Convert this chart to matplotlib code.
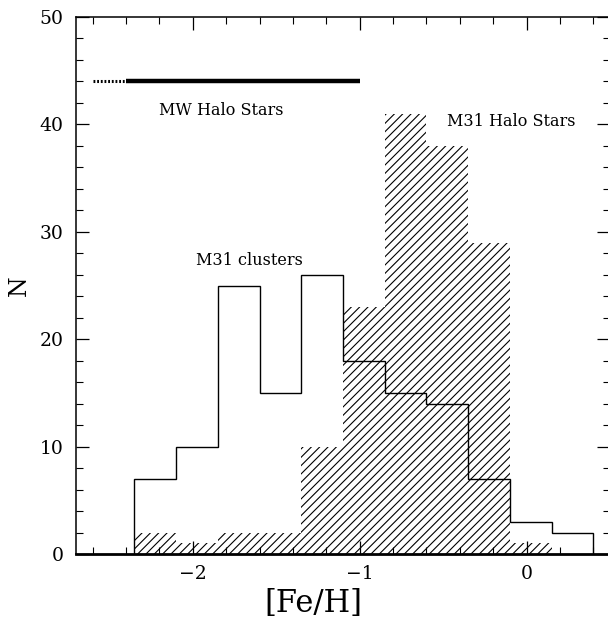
import numpy as np
import matplotlib
matplotlib.use('Agg')
import matplotlib.pyplot as plt
from matplotlib.ticker import MultipleLocator

# [Fe/H] bins shared by both histograms
bin_edges = [-2.35, -2.10, -1.85, -1.60, -1.35, -1.10, -0.85, -0.60, -0.35, -0.10, 0.15, 0.40]
m31_clusters = [7, 10, 25, 15, 26, 18, 15, 14, 7, 3, 2]
m31_halo_stars = [2, 1, 2, 2, 10, 23, 41, 38, 29, 1, 0]

# MW halo metallicity range (solid part + dotted extension), drawn at N = 44
mw_halo_solid = [-2.4, -1.0]
mw_halo_dotted = [-2.6, -2.4]
mw_halo_level = 44

plt.rcParams['font.family'] = ['DejaVu Serif']
plt.rcParams['hatch.linewidth'] = 0.8

fig = plt.figure(figsize=(6.08, 6.2), dpi=100)
ax = fig.add_axes([76 / 608, 1 - 554 / 620, (610 - 76) / 608, (554 - 17) / 620])

# M31 halo stars: hatched, no outline
ax.stairs(m31_halo_stars, bin_edges, fill=True, hatch='////',
          facecolor='none', edgecolor='black', linewidth=0)
# M31 clusters: open step outline
ax.stairs(m31_clusters, bin_edges, baseline=0, color='black', linewidth=1.0)

ax.plot(mw_halo_solid, [mw_halo_level] * 2, color='black', linewidth=3.2,
        solid_capstyle='butt')
ax.plot(mw_halo_dotted, [mw_halo_level] * 2, color='black', linewidth=2.2,
        dashes=(0.6, 0.6), solid_capstyle='butt', dash_capstyle='butt')

ax.text(-1.83, 41.3, 'MW Halo Stars', fontsize=11.5, ha='center', va='center')
ax.text(-0.094, 40.3, 'M31 Halo Stars', fontsize=11.5, ha='center', va='center')
ax.text(-1.66, 27.3, 'M31 clusters', fontsize=11.5, ha='center', va='center')

ax.set_xlim(-2.7, 0.5)
ax.set_ylim(0, 50)
ax.xaxis.set_major_locator(MultipleLocator(1))
ax.xaxis.set_minor_locator(MultipleLocator(0.2))
ax.yaxis.set_major_locator(MultipleLocator(10))
ax.yaxis.set_minor_locator(MultipleLocator(2))

ax.tick_params(which='both', direction='in', top=True, right=True, labelsize=13.5)
ax.tick_params(which='major', length=9.5, width=0.9)
ax.tick_params(which='minor', length=5, width=0.8)
ax.tick_params(axis='y', pad=9)
ax.tick_params(axis='x', pad=8)

for side in ('left', 'top', 'right'):
    ax.spines[side].set_linewidth(1.1)
ax.spines['bottom'].set_linewidth(2.0)

ax.set_xlabel('[Fe/H]', fontsize=22)
ax.xaxis.set_label_coords((313 - 76) / 534, -49 / 537)
ax.xaxis.label.set_va('center')
ax.set_ylabel('N', fontsize=17)
ax.yaxis.set_label_coords(-(76 - 19) / 534, 0.5)
ax.yaxis.label.set_va('center')

fig.savefig('out.png', dpi=100)
